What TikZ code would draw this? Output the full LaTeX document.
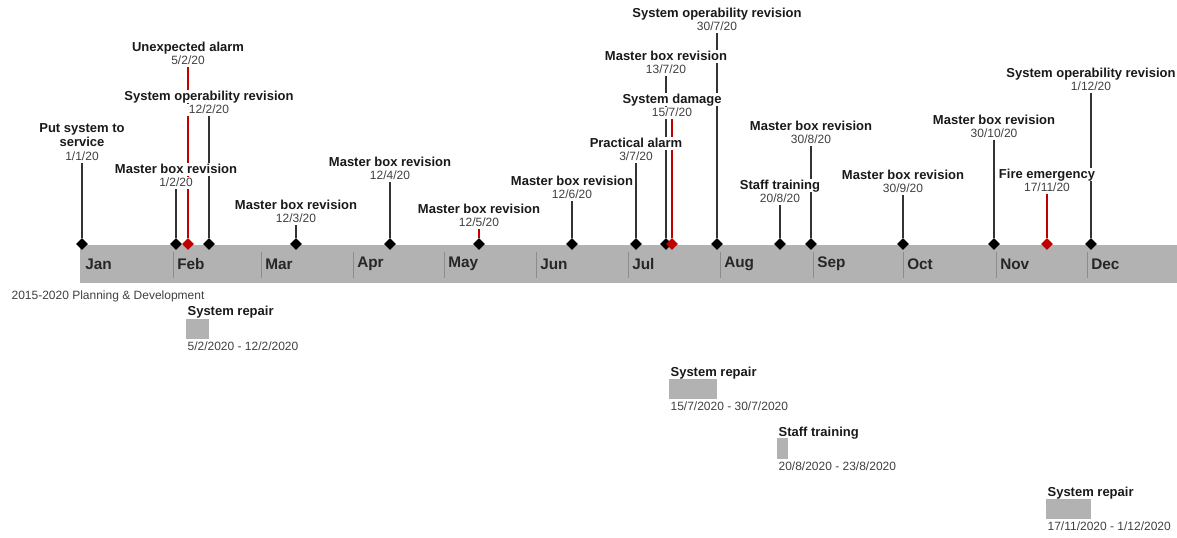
\documentclass[tikz,border=0pt]{standalone}
\usepackage{fontspec}
\setmainfont{Liberation Sans}
\usetikzlibrary{shapes.geometric,positioning,backgrounds}

\definecolor{bargray}{RGB}{178,178,178}
\definecolor{sepgray}{RGB}{140,140,140}
\definecolor{alarmred}{RGB}{192,0,0}
\definecolor{txtgray}{RGB}{64,64,64}

\tikzset{
  milestone/.style={diamond, fill=black, minimum width=9pt, minimum height=9pt, inner sep=0pt},
  alarm/.style={milestone, fill=alarmred},
  evlabel/.style={font=\fontsize{9.75}{10.5}\selectfont\bfseries, text=black!90, fill=white, inner sep=0.6pt},
  evtitle/.style={evlabel, text height=7.2pt, text depth=1.3pt},
  evdate/.style={font=\fontsize{9}{10}\selectfont, text=txtgray, fill=white, inner ysep=0.6pt, inner xsep=2pt, text height=6.5pt, text depth=1.5pt},
  stemline/.style={line width=1.1pt, black!80},
  redstem/.style={stemline, alarmred},
  sepline/.style={line width=0.6pt, sepgray},
  month/.style={font=\fontsize{11.5}{12}\selectfont\bfseries, text=black!85, anchor=west, inner sep=0pt},
  taskname/.style={font=\fontsize{9.75}{10.5}\selectfont\bfseries, text=black!90, anchor=west, inner sep=1pt},
  taskdate/.style={font=\fontsize{9}{10}\selectfont, text=txtgray, anchor=west, inner sep=1pt}
}

\begin{document}
\begin{tikzpicture}[x=0.75pt,y=0.75pt,yscale=-1,xscale=1]
\useasboundingbox (0,0) rectangle (1177,537);

%Timeline bar
\fill [bargray] (80,245) rectangle (1177,283);

%Month separators
\draw [sepline] (173,252) -- (173,278);
\draw [sepline] (261,252) -- (261,278);
\draw [sepline] (353,252) -- (353,278);
\draw [sepline] (444,252) -- (444,278);
\draw [sepline] (536,252) -- (536,278);
\draw [sepline] (628,252) -- (628,278);
\draw [sepline] (720,252) -- (720,278);
\draw [sepline] (813,252) -- (813,278);
\draw [sepline] (903,252) -- (903,278);
\draw [sepline] (996,252) -- (996,278);
\draw [sepline] (1087,252) -- (1087,278);

% Month Nodes
\node [month] (jan) at (85,264) {Jan};
\node [month] (feb) at (177,264) {Feb};
\node [month] (mar) at (265,264) {Mar};
\node [month] (apr) at (357,264) {Apr};
\node [month] (may) at (448,264) {May};
\node [month] (jun) at (540,264) {Jun};
\node [month] (jul) at (632,264) {Jul};
\node [month] (aug) at (724,264) {Aug};
\node [month] (sep) at (817,264) {Sep};
\node [month] (oct) at (907,264) {Oct};
\node [month] (nov) at (1000,264) {Nov};
\node [month] (dec) at (1091,264) {Dec};

% Text Node
\node [taskdate] (plan) at (10,296) {2015-2020 Planning \& Development};

%Milestones: 1/1/20
\node [evdate] (d1) at (82,157) {1/1/20};
\node [evlabel, align=center, text depth=2.5pt, above=0pt of d1] (t1) {Put system to\\service};
\node [milestone] (m1) at (82,244) {};

%1/2/20
\node [evdate] (d2) at (176,183) {1/2/20};
\node [evtitle, above=0pt of d2] (t2) {Master box revision};
\node [milestone] (m2) at (176,244) {};

%5/2/20
\node [evdate] (d3) at (188,61) {5/2/20};
\node [evtitle, above=0pt of d3] (t3) {Unexpected alarm};
\node [alarm] (m3) at (188,244) {};

%12/2/20
\node [evdate] (d4) at (209,110) {12/2/20};
\node [evtitle, above=0pt of d4] (t4) {System operability revision};
\node [milestone] (m4) at (209,244) {};

%12/3/20
\node [evdate] (d5) at (296,219) {12/3/20};
\node [evtitle, above=0pt of d5] (t5) {Master box revision};
\node [milestone] (m5) at (296,244) {};

%12/4/20
\node [evdate] (d6) at (390,176) {12/4/20};
\node [evtitle, above=0pt of d6] (t6) {Master box revision};
\node [milestone] (m6) at (390,244) {};

%12/5/20
\node [evdate] (d7) at (479,223) {12/5/20};
\node [evtitle, above=0pt of d7] (t7) {Master box revision};
\node [milestone] (m7) at (479,244) {};

%12/6/20
\node [evdate] (d8) at (572,195) {12/6/20};
\node [evtitle, above=0pt of d8] (t8) {Master box revision};
\node [milestone] (m8) at (572,244) {};

%3/7/20
\node [evdate] (d9) at (636,157) {3/7/20};
\node [evtitle, above=0pt of d9] (t9) {Practical alarm};
\node [milestone] (m9) at (636,244) {};

%13/7/20
\node [evdate] (d10) at (666,70) {13/7/20};
\node [evtitle, above=0pt of d10] (t10) {Master box revision};
\node [milestone] (m10) at (666,244) {};

%15/7/20
\node [evdate] (d11) at (672,113) {15/7/20};
\node [evtitle, above=0pt of d11] (t11) {System damage};
\node [alarm] (m11) at (672,244) {};

%30/7/20
\node [evdate] (d12) at (717,27) {30/7/20};
\node [evtitle, above=0pt of d12] (t12) {System operability revision};
\node [milestone] (m12) at (717,244) {};

%20/8/20
\node [evdate] (d13) at (780,199) {20/8/20};
\node [evtitle, above=0pt of d13] (t13) {Staff training};
\node [milestone] (m13) at (780,244) {};

%30/8/20
\node [evdate] (d14) at (811,140) {30/8/20};
\node [evtitle, above=0pt of d14] (t14) {Master box revision};
\node [milestone] (m14) at (811,244) {};

%30/9/20
\node [evdate] (d15) at (903,189) {30/9/20};
\node [evtitle, above=0pt of d15] (t15) {Master box revision};
\node [milestone] (m15) at (903,244) {};

%30/10/20
\node [evdate] (d16) at (994,134) {30/10/20};
\node [evtitle, above=0pt of d16] (t16) {Master box revision};
\node [milestone] (m16) at (994,244) {};

%17/11/20
\node [evdate] (d17) at (1047,188) {17/11/20};
\node [evtitle, above=0pt of d17] (t17) {Fire emergency};
\node [alarm] (m17) at (1047,244) {};

%1/12/20
\node [evdate] (d18) at (1091,87) {1/12/20};
\node [evtitle, above=0pt of d18] (t18) {System operability revision};
\node [milestone] (m18) at (1091,244) {};

%Straight Lines
\begin{scope}[on background layer]
\draw [stemline] (d1) -- (m1);
\draw [stemline] (d2) -- (m2);
\draw [redstem] (d3) -- (m3);
\draw [stemline] (d4) -- (m4);
\draw [stemline] (d5) -- (m5);
\draw [stemline] (d6) -- (m6);
\draw [redstem] (d7) -- (m7);
\draw [stemline] (d8) -- (m8);
\draw [stemline] (d9) -- (m9);
\draw [stemline] (d10) -- (m10);
\draw [redstem] (d11) -- (m11);
\draw [stemline] (d12) -- (m12);
\draw [stemline] (d13) -- (m13);
\draw [stemline] (d14) -- (m14);
\draw [stemline] (d15) -- (m15);
\draw [stemline] (d16) -- (m16);
\draw [redstem] (d17) -- (m17);
\draw [stemline] (d18) -- (m18);
\end{scope}

%Tasks
\fill [bargray] (186,319) rectangle (209,339);
\node [taskname] (r1) at (186,312) {System repair};
\node [taskdate] (r1d) at (186,346) {5/2/2020 - 12/2/2020};

\fill [bargray] (669,379) rectangle (717,399);
\node [taskname] (r2) at (669,373) {System repair};
\node [taskdate] (r2d) at (669,406) {15/7/2020 - 30/7/2020};

\fill [bargray] (777,438) rectangle (788,459);
\node [taskname] (r3) at (777,433) {Staff training};
\node [taskdate] (r3d) at (777,466) {20/8/2020 - 23/8/2020};

\fill [bargray] (1046,499) rectangle (1091,519);
\node [taskname] (r4) at (1046,493) {System repair};
\node [taskdate] (r4d) at (1046,526) {17/11/2020 - 1/12/2020};

\end{tikzpicture}
\end{document}
